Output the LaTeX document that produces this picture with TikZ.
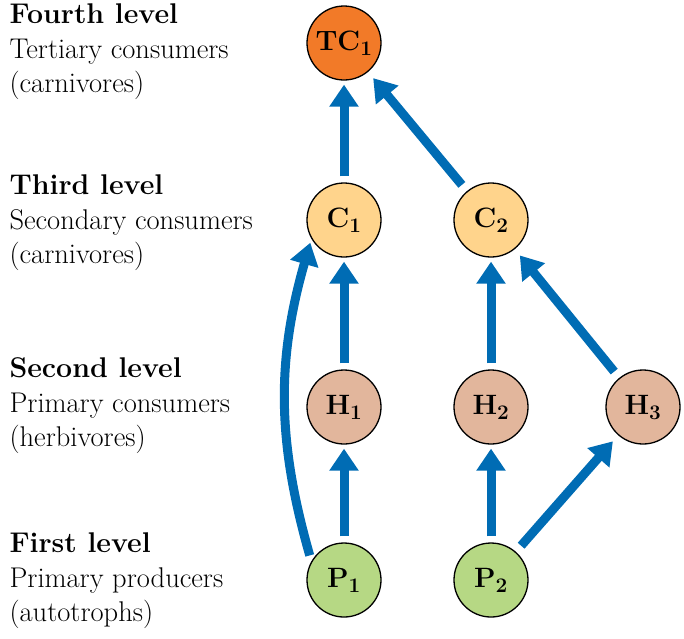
\documentclass[tikz,border=0pt]{standalone}
\usetikzlibrary{arrows.meta}
\definecolor{arr}{RGB}{0,108,180}
\definecolor{tcc}{RGB}{242,122,40}
\definecolor{cc}{RGB}{255,212,140}
\definecolor{hc}{RGB}{226,182,156}
\definecolor{pc}{RGB}{182,216,132}
\begin{document}
\begin{tikzpicture}[x=1pt,y=-1pt,
  org/.style={circle,draw=black,line width=1.3pt,minimum size=74pt,inner sep=0pt,font=\fontsize{28}{32}\selectfont\bfseries},
  flow/.style={draw=arr,line width=9pt,-{Triangle[length=22pt,width=28pt]}},
  lab/.style={anchor=west,align=left,font=\fontsize{28.5}{34.5}\selectfont}]
\useasboundingbox (0,0) rectangle (684,638);
\node[org,fill=tcc] (tc) at (344,43) {TC$_{\mathbf 1}$};
\node[org,fill=cc] (c1) at (344,220) {C$_{\mathbf 1}$};
\node[org,fill=cc] (c2) at (491,220) {C$_{\mathbf 2}$};
\node[org,fill=hc] (h1) at (344,407) {H$_{\mathbf 1}$};
\node[org,fill=hc] (h2) at (491,407) {H$_{\mathbf 2}$};
\node[org,fill=hc] (h3) at (643,407) {H$_{\mathbf 3}$};
\node[org,fill=pc] (p1) at (344,580) {P$_{\mathbf 1}$};
\node[org,fill=pc] (p2) at (491,580) {P$_{\mathbf 2}$};
\draw[flow,shorten <=6pt,shorten >=4pt] (p1) -- (h1);
\draw[flow,shorten <=6pt,shorten >=4pt] (p2) -- (h2);
\draw[flow,shorten <=6pt,shorten >=4pt] (h1) -- (c1);
\draw[flow,shorten <=6pt,shorten >=4pt] (h2) -- (c2);
\draw[flow,shorten <=6pt,shorten >=4pt] (c1) -- (tc);
\draw[flow,shorten <=8pt,shorten >=8pt] (c2) -- (tc);
\draw[flow,shorten <=8pt,shorten >=8pt] (p2) -- (h3);
\draw[flow,shorten <=8pt,shorten >=8pt] (h3) -- (c2);
\draw[flow,shorten <=6pt,shorten >=4pt] (p1.150) to[bend left=16] (c1.210);
\node[lab] (l4) at (6,52) {\textbf{Fourth level}\\Tertiary consumers\\(carnivores)};
\node[lab] (l3) at (6,223) {\textbf{Third level}\\Secondary consumers\\(carnivores)};
\node[lab] (l2) at (6,406) {\textbf{Second level}\\Primary consumers\\(herbivores)};
\node[lab] (l1) at (6,581) {\textbf{First level}\\Primary producers\\(autotrophs)};
\end{tikzpicture}
\end{document}
